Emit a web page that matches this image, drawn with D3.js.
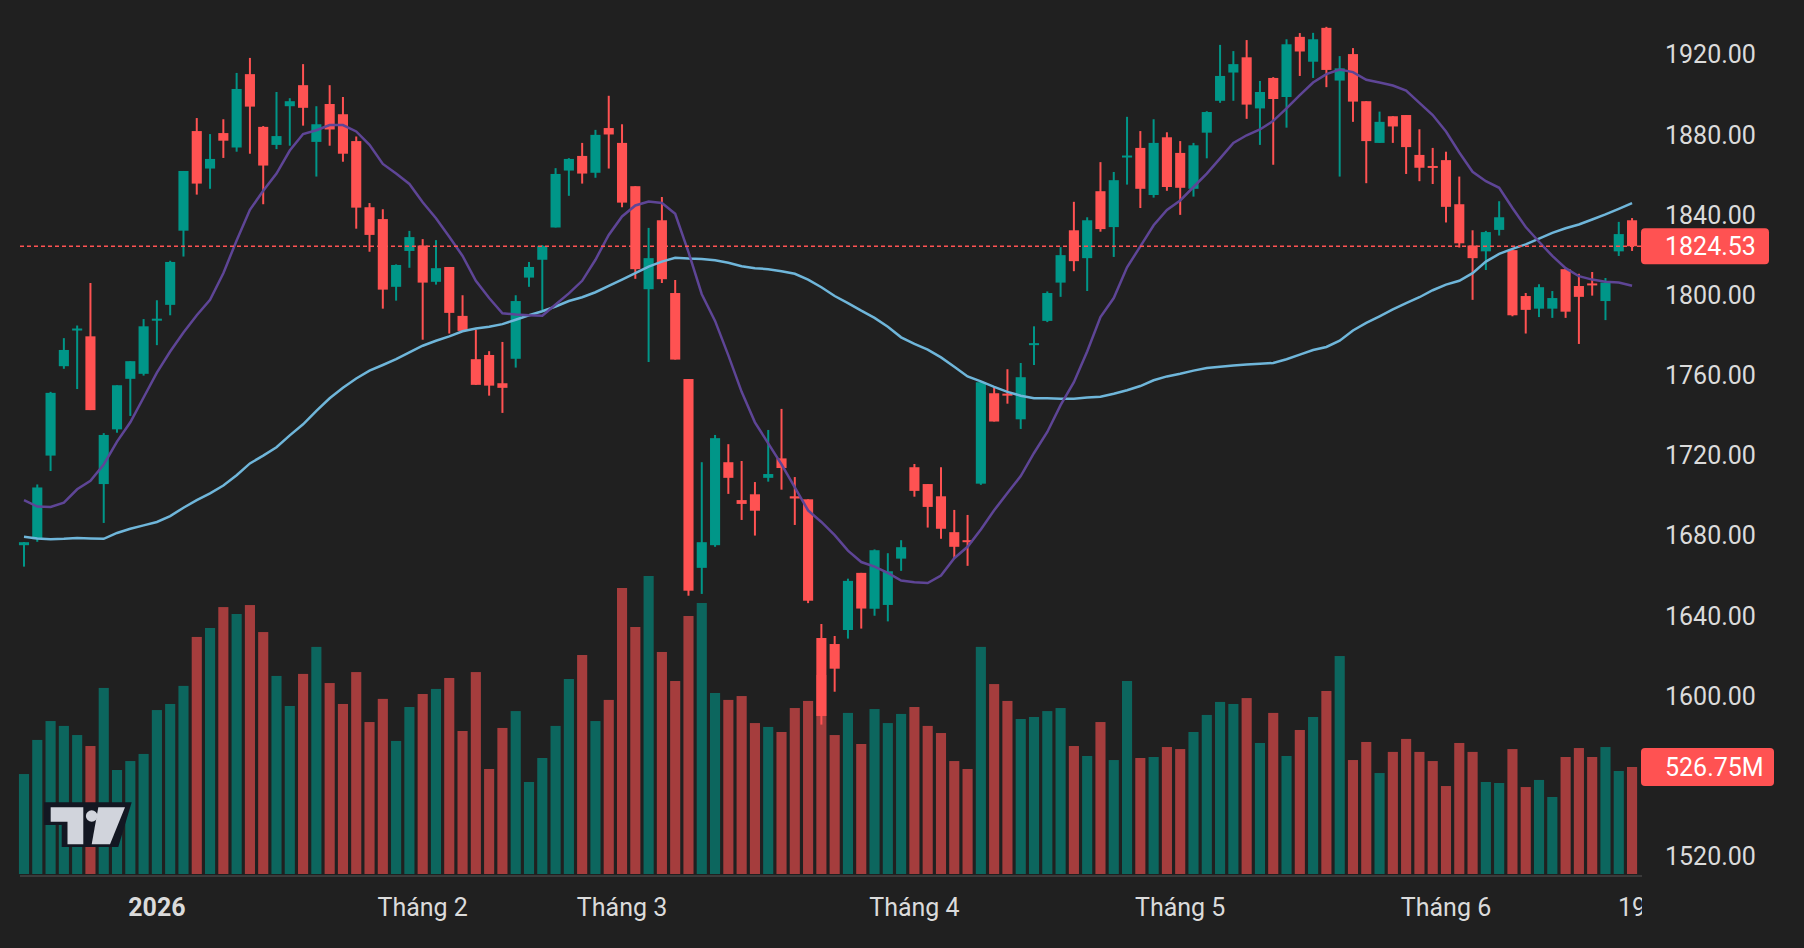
<!DOCTYPE html>
<html>
<head>
<meta charset="utf-8">
<script src="https://cdn.jsdelivr.net/npm/d3@7"></script>
<style>
  html, body { margin: 0; padding: 0; background: #202020; }
  svg { display: block; }
</style>
</head>
<body>
<div id="chart"></div>
<script>
// daily OHLC, one entry per session
const opens = [
  1675.4, 1678.4, 1720.1, 1764.7, 1782.5, 1779.6, 1705.9, 1733.2, 1758.4, 1760.9,
  1787.6, 1795.3, 1832.3, 1882.0, 1863.3, 1881.0, 1873.8, 1910.4, 1884.1, 1875.1,
  1894.4, 1904.9, 1876.6, 1895.5, 1890.4, 1877.0, 1844.0, 1838.1, 1804.3, 1822.2,
  1824.9, 1806.8, 1814.2, 1789.8, 1768.2, 1770.3, 1756.2, 1768.4, 1808.9, 1817.8,
  1833.9, 1862.3, 1869.6, 1861.2, 1883.5, 1876.1, 1854.5, 1803.1, 1837.5, 1801.2,
  1758.3, 1664.1, 1675.4, 1716.8, 1697.9, 1700.8, 1709.0, 1718.7, 1699.8, 1698.3,
  1629.1, 1626.1, 1633.1, 1661.6, 1643.7, 1645.6, 1668.7, 1714.3, 1705.9, 1699.8,
  1681.9, 1677.9, 1706.1, 1751.2, 1751.0, 1738.2, 1775.4, 1787.3, 1806.4, 1832.5,
  1818.6, 1852.0, 1834.1, 1869.0, 1873.6, 1850.1, 1878.9, 1871.1, 1853.2, 1881.2,
  1897.1, 1911.2, 1918.8, 1893.3, 1908.5, 1899.0, 1929.0, 1916.6, 1933.5, 1907.2,
  1920.4, 1896.9, 1876.1, 1889.4, 1890.0, 1870.1, 1864.6, 1867.5, 1845.5, 1824.9,
  1822.0, 1832.7, 1822.6, 1799.7, 1793.4, 1793.4, 1813.1, 1804.7, 1806.0, 1797.2,
  1822.0, 1837.5
];
const highs = [
  1677.0, 1705.7, 1751.9, 1778.7, 1785.0, 1806.2, 1731.3, 1755.2, 1767.2, 1788.2,
  1797.6, 1817.3, 1862.1, 1888.5, 1880.5, 1887.9, 1911.0, 1918.5, 1884.5, 1901.5,
  1898.4, 1915.4, 1894.4, 1904.9, 1899.0, 1879.3, 1846.1, 1843.0, 1815.5, 1832.2,
  1828.1, 1827.6, 1814.2, 1800.1, 1782.9, 1772.2, 1776.8, 1800.1, 1816.7, 1825.1,
  1863.5, 1868.5, 1876.1, 1882.6, 1899.6, 1885.4, 1854.5, 1833.7, 1849.1, 1807.7,
  1758.3, 1716.8, 1730.4, 1725.8, 1717.4, 1706.9, 1732.9, 1743.4, 1709.4, 1698.3,
  1636.1, 1630.1, 1658.7, 1661.6, 1673.3, 1671.4, 1677.9, 1715.9, 1705.9, 1714.3,
  1693.0, 1690.5, 1757.0, 1754.8, 1763.2, 1766.3, 1784.6, 1802.0, 1824.1, 1846.7,
  1839.0, 1866.5, 1861.6, 1889.1, 1882.0, 1887.9, 1881.4, 1877.0, 1876.1, 1891.9,
  1925.0, 1921.9, 1927.4, 1907.0, 1908.9, 1927.8, 1930.9, 1931.0, 1934.0, 1919.4,
  1923.4, 1896.9, 1891.7, 1889.4, 1890.0, 1882.9, 1873.6, 1871.7, 1859.3, 1832.5,
  1832.2, 1847.0, 1823.2, 1801.2, 1805.6, 1802.2, 1813.6, 1810.8, 1811.7, 1808.7,
  1836.7, 1838.6
];
const lows = [
  1664.7, 1677.1, 1712.4, 1763.4, 1753.3, 1742.8, 1686.5, 1731.5, 1739.9, 1760.0,
  1775.2, 1790.1, 1819.4, 1850.3, 1853.2, 1868.6, 1871.7, 1870.7, 1845.5, 1873.0,
  1874.7, 1884.7, 1859.3, 1874.7, 1866.7, 1833.3, 1821.8, 1793.4, 1797.4, 1813.8,
  1777.9, 1805.4, 1781.0, 1782.3, 1755.4, 1750.0, 1741.4, 1764.0, 1804.3, 1792.6,
  1833.9, 1849.7, 1855.8, 1858.7, 1863.3, 1844.0, 1808.3, 1766.8, 1806.2, 1768.0,
  1650.2, 1651.1, 1674.6, 1701.0, 1688.0, 1680.2, 1707.1, 1703.1, 1685.5, 1646.5,
  1585.9, 1602.3, 1628.8, 1633.8, 1640.2, 1637.4, 1662.6, 1699.6, 1684.2, 1678.6,
  1668.9, 1665.1, 1705.5, 1737.1, 1746.0, 1733.4, 1765.3, 1786.7, 1799.3, 1812.1,
  1802.2, 1831.8, 1819.2, 1855.3, 1843.6, 1848.8, 1852.2, 1840.2, 1849.3, 1868.4,
  1896.1, 1897.1, 1888.1, 1875.1, 1865.2, 1883.7, 1909.5, 1908.5, 1903.9, 1859.3,
  1886.6, 1856.0, 1876.1, 1876.1, 1860.6, 1857.0, 1855.6, 1836.4, 1823.9, 1797.8,
  1812.7, 1829.9, 1789.6, 1781.0, 1789.2, 1788.8, 1788.8, 1775.8, 1799.9, 1787.7,
  1819.7, 1822.2
];
const closes = [
  1676.9, 1704.2, 1751.4, 1772.8, 1783.5, 1742.8, 1730.4, 1755.2, 1767.2, 1784.6,
  1788.4, 1816.7, 1862.1, 1855.8, 1868.1, 1877.2, 1903.0, 1894.2, 1864.8, 1879.5,
  1896.9, 1893.6, 1885.4, 1882.8, 1870.7, 1843.8, 1830.2, 1802.9, 1815.2, 1829.1,
  1806.4, 1813.6, 1791.3, 1782.3, 1755.4, 1755.0, 1753.9, 1797.2, 1814.2, 1824.7,
  1860.6, 1868.1, 1860.8, 1880.1, 1880.3, 1846.3, 1813.1, 1818.6, 1808.1, 1768.0,
  1652.7, 1676.9, 1728.8, 1709.0, 1696.0, 1692.6, 1710.9, 1713.9, 1698.7, 1647.7,
  1590.2, 1613.8, 1657.6, 1643.8, 1672.9, 1662.4, 1674.4, 1702.5, 1694.5, 1683.6,
  1674.6, 1677.1, 1756.7, 1737.1, 1750.2, 1759.2, 1776.2, 1801.2, 1820.1, 1817.1,
  1837.5, 1833.1, 1857.5, 1869.8, 1853.2, 1876.1, 1854.1, 1853.7, 1874.9, 1891.5,
  1909.5, 1915.4, 1895.2, 1901.5, 1898.0, 1925.3, 1921.7, 1927.8, 1912.5, 1913.3,
  1896.7, 1877.0, 1886.6, 1884.3, 1874.0, 1863.7, 1863.8, 1844.2, 1826.0, 1818.6,
  1831.6, 1839.0, 1790.1, 1792.8, 1804.1, 1798.7, 1791.9, 1799.3, 1805.0, 1806.4,
  1830.6, 1824.53
];
// volume in millions
const volumes = [
  492, 660, 753, 729, 684, 630, 916, 512, 556, 591,
  807, 837, 926, 1167, 1211, 1314, 1280, 1324, 1191, 975,
  827, 985, 1118, 940, 837, 994, 748, 862, 655, 822,
  886, 911, 965, 704, 994, 517, 719, 802, 453, 571,
  729, 960, 1078, 753, 857, 1408, 1216, 1467, 1093, 950,
  1270, 1334, 891, 857, 876, 743, 724, 699, 817, 852,
  980, 684, 793, 640, 812, 743, 788, 822, 729, 694,
  556, 517, 1118, 935, 852, 763, 773, 802, 817, 630,
  581, 748, 561, 950, 571, 576, 625, 615, 699, 783,
  847, 837, 866, 645, 793, 581, 709, 773, 901, 1073,
  561, 650, 497, 601, 665, 601, 556, 433, 645, 601,
  453, 448, 615, 428, 463, 379, 576, 620, 576, 625,
  507, 526.75
];
// short moving average (purple)
const maFast = [
  1697.9, 1694.7, 1694.5, 1696.6, 1703.3, 1707.5, 1715.7, 1727.1, 1736.7, 1749.1,
  1761.5, 1772.0, 1781.5, 1790.1, 1797.8, 1811.1, 1827.4, 1842.7, 1852.2, 1860.8,
  1872.3, 1880.5, 1882.4, 1885.0, 1885.0, 1881.8, 1875.1, 1865.6, 1860.8, 1855.6,
  1846.5, 1838.5, 1829.3, 1819.7, 1807.3, 1798.7, 1791.1, 1790.5, 1790.1, 1789.9,
  1795.5, 1801.0, 1807.3, 1817.8, 1830.2, 1839.4, 1844.9, 1846.9, 1846.1, 1840.7,
  1821.6, 1800.6, 1787.3, 1770.1, 1751.9, 1736.7, 1726.2, 1715.7, 1704.2, 1692.8,
  1687.0, 1680.4, 1672.7, 1667.0, 1664.7, 1661.6, 1657.8, 1656.9, 1656.5, 1660.3,
  1668.9, 1674.6, 1683.2, 1692.8, 1701.4, 1709.9, 1721.4, 1731.9, 1745.3, 1756.7,
  1772.0, 1789.2, 1798.7, 1814.0, 1824.5, 1835.0, 1842.6, 1847.4, 1854.1, 1860.8,
  1868.4, 1876.1, 1879.9, 1882.8, 1887.1, 1893.3, 1899.9, 1906.2, 1910.4, 1912.7,
  1911.4, 1907.6, 1906.2, 1904.7, 1902.2, 1896.1, 1890.0, 1881.8, 1871.3, 1861.7,
  1857.0, 1853.7, 1843.6, 1834.1, 1826.8, 1819.7, 1813.6, 1809.6, 1807.9, 1806.8,
  1806.4, 1804.8
];
// long moving average (light blue)
const maSlow = [
  1679.6, 1678.8, 1678.4, 1678.6, 1679.0, 1678.8, 1678.6, 1681.5, 1683.6, 1685.3,
  1687.0, 1689.9, 1694.1, 1697.9, 1701.3, 1705.2, 1710.3, 1716.2, 1720.1, 1724.3,
  1730.2, 1735.7, 1742.4, 1748.7, 1753.9, 1758.6, 1762.5, 1765.3, 1768.2, 1771.6,
  1774.9, 1777.4, 1779.6, 1782.1, 1783.5, 1784.4, 1785.7, 1787.9, 1790.1, 1792.1,
  1794.5, 1797.2, 1799.1, 1801.6, 1804.8, 1807.9, 1811.1, 1814.4, 1816.9, 1818.8,
  1818.4, 1818.2, 1817.5, 1816.3, 1814.6, 1813.6, 1813.1, 1812.1, 1810.8, 1807.9,
  1804.1, 1799.7, 1796.2, 1792.4, 1788.8, 1784.4, 1779.1, 1775.8, 1773.0, 1769.1,
  1764.4, 1759.6, 1757.1, 1754.4, 1751.9, 1750.0, 1748.7, 1748.7, 1748.5, 1748.5,
  1749.1, 1749.5, 1751.0, 1752.7, 1754.8, 1757.7, 1759.6, 1760.9, 1762.5, 1763.8,
  1764.4, 1765.1, 1765.5, 1765.9, 1766.3, 1768.2, 1770.5, 1772.8, 1774.3, 1777.4,
  1782.5, 1786.3, 1789.6, 1793.0, 1796.2, 1799.1, 1802.6, 1805.4, 1807.3, 1811.1,
  1816.9, 1820.7, 1823.2, 1825.5, 1828.3, 1831.2, 1833.5, 1835.4, 1837.9, 1840.4,
  1843.2, 1846.1
];

const priceTicks = [1920, 1880, 1840, 1800, 1760, 1720, 1680, 1640, 1600, 1520];
const xTickIndex = [10, 30, 45, 67, 87, 107, 121];
const xTickText  = ["2026", "Tháng 2", "Tháng 3", "Tháng 4", "Tháng 5", "Tháng 6", "19"];

const UP = "#009688";
const DOWN = "#ff5252";
const FONT = "Roboto, 'Noto Sans', sans-serif";

renderChart();

function renderChart() {
  const width = 1804, height = 948;
  const paneRight = 1642, baseY = 874;
  const n = closes.length;
  const idx = d3.range(n);

  const svg = d3.select("#chart")
    .append("svg")
    .attr("width", width)
    .attr("height", height)
    .style("background", "#202020");

  svg.append("clipPath")
    .attr("id", "pane")
    .append("rect")
    .attr("x", 0).attr("y", 0)
    .attr("width", paneRight).attr("height", height);

  const x = d3.scaleBand()
    .domain(idx)
    .range([17.35, 1638.7])
    .paddingInner(0.24)
    .paddingOuter(0.12);
  const cx = i => x(i) + x.bandwidth() / 2;

  const y = d3.scaleLinear()
    .domain([1520, 1920])
    .range([856.7, 54.9]);

  const yVol = d3.scaleLinear()
    .domain([0, 526.75])
    .range([baseY, 767]);

  const pane = svg.append("g").attr("clip-path", "url(#pane)");

  // volume overlay
  pane.append("g")
    .selectAll("rect")
    .data(idx)
    .enter()
    .append("rect")
    .attr("x", i => x(i))
    .attr("width", x.bandwidth())
    .attr("y", i => yVol(volumes[i]))
    .attr("height", i => baseY - yVol(volumes[i]))
    .attr("fill", i => closes[i] >= opens[i] ? UP : DOWN)
    .attr("fill-opacity", 0.6);

  // logo
  const logo = svg.append("g");
  logo.append("polygon")
    .attr("points", "44,802.3 131.7,802.3 118.3,847 61.7,847 61.7,825 44,825")
    .attr("fill", "#131722");
  logo.append("polygon")
    .attr("points", "50.7,807.3 83.3,807.3 83.3,844.3 67.5,844.3 67.5,821.7 50.7,821.7")
    .attr("fill", "#d1d4dc");
  logo.append("circle")
    .attr("cx", 91.7).attr("cy", 816).attr("r", 5.8)
    .attr("fill", "#d1d4dc");
  logo.append("polygon")
    .attr("points", "98.3,807.3 125,807.3 110,844.3 91.7,844.3")
    .attr("fill", "#d1d4dc");

  // candles
  const candles = pane.append("g");
  candles.selectAll("line")
    .data(idx)
    .enter()
    .append("line")
    .attr("x1", cx).attr("x2", cx)
    .attr("y1", i => y(highs[i]))
    .attr("y2", i => y(lows[i]))
    .attr("stroke", i => closes[i] >= opens[i] ? UP : DOWN)
    .attr("stroke-width", 2);

  candles.selectAll("rect")
    .data(idx)
    .enter()
    .append("rect")
    .attr("x", i => x(i))
    .attr("width", x.bandwidth())
    .attr("y", i => y(Math.max(opens[i], closes[i])))
    .attr("height", i => Math.max(2, Math.abs(y(opens[i]) - y(closes[i]))))
    .attr("fill", i => closes[i] >= opens[i] ? UP : DOWN);

  // moving averages
  const line = arr => d3.line()
    .x((d, i) => cx(i))
    .y(d => y(d))(arr);

  pane.append("path")
    .attr("d", line(maSlow))
    .attr("fill", "none")
    .attr("stroke", "#6fb6da")
    .attr("stroke-width", 2.5);

  pane.append("path")
    .attr("d", line(maFast))
    .attr("fill", "none")
    .attr("stroke", "#5e4596")
    .attr("stroke-width", 2.5);

  // last price line
  const last = closes[n - 1];
  pane.append("line")
    .attr("x1", 20).attr("x2", paneRight)
    .attr("y1", y(last)).attr("y2", y(last))
    .attr("stroke", DOWN)
    .attr("stroke-width", 1.5)
    .attr("stroke-dasharray", "4,3");

  // bottom border
  svg.append("line")
    .attr("x1", 20).attr("x2", paneRight)
    .attr("y1", 876).attr("y2", 876)
    .attr("stroke", "#3a3a3a")
    .attr("stroke-width", 2);

  // price axis
  const yAxis = svg.append("g")
    .attr("transform", "translate(1665,0)")
    .call(d3.axisRight(y)
      .tickValues(priceTicks)
      .tickFormat(d3.format(".2f"))
      .tickSize(0)
      .tickPadding(0));
  yAxis.select(".domain").remove();
  yAxis.selectAll("text")
    .attr("fill", "#dbdbdb")
    .attr("font-family", FONT)
    .attr("font-size", 25);

  // time axis
  const xAxis = svg.append("g")
    .attr("clip-path", "url(#pane)")
    .append("g")
    .attr("transform", "translate(0,876)")
    .call(d3.axisBottom(x)
      .tickValues(xTickIndex)
      .tickFormat((d, k) => xTickText[k])
      .tickSize(0)
      .tickPadding(22));
  xAxis.select(".domain").remove();
  xAxis.selectAll("text")
    .attr("fill", "#dbdbdb")
    .attr("font-family", FONT)
    .attr("font-size", 25)
    .attr("font-weight", (d, k) => k === 0 ? "bold" : "normal");

  // last price label
  svg.append("rect")
    .attr("x", 1641).attr("y", y(last) - 18)
    .attr("width", 128).attr("height", 36)
    .attr("rx", 4)
    .attr("fill", DOWN);
  svg.append("text")
    .attr("x", 1665).attr("y", y(last))
    .attr("dy", "0.35em")
    .attr("fill", "#ffffff")
    .attr("font-family", FONT)
    .attr("font-size", 25)
    .text(d3.format(".2f")(last));

  // last volume label
  const lastVol = volumes[n - 1];
  svg.append("rect")
    .attr("x", 1641).attr("y", yVol(lastVol) - 19)
    .attr("width", 133).attr("height", 38)
    .attr("rx", 4)
    .attr("fill", DOWN);
  svg.append("text")
    .attr("x", 1665).attr("y", yVol(lastVol))
    .attr("dy", "0.35em")
    .attr("fill", "#ffffff")
    .attr("font-family", FONT)
    .attr("font-size", 25)
    .text(d3.format(".2f")(lastVol) + "M");
}
</script>
</body>
</html>
